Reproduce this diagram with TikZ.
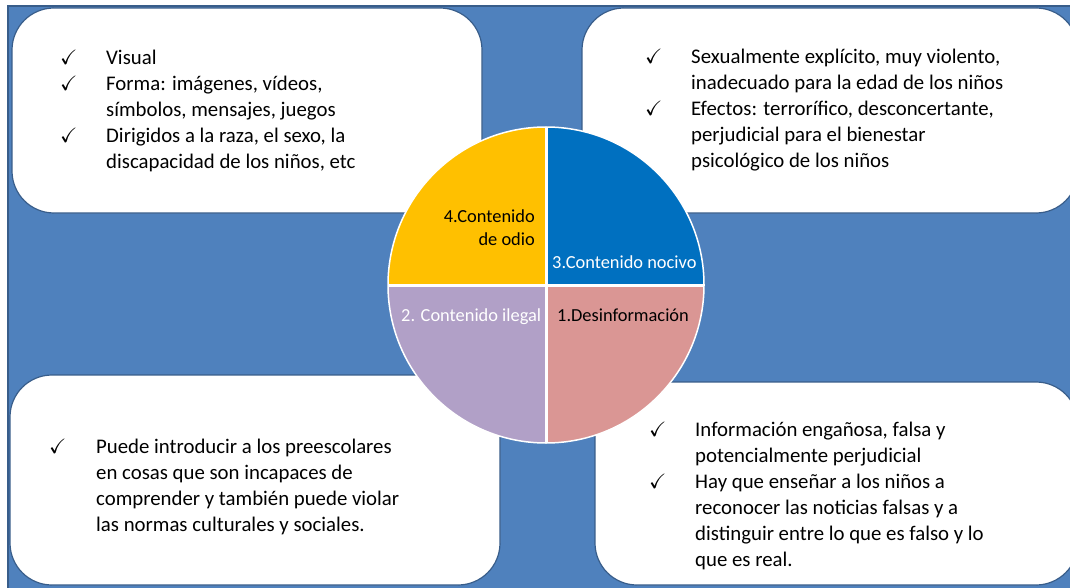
\documentclass[tikz,border=0pt]{standalone}
\usepackage{amssymb}
\usepackage{fontspec}
\setmainfont{Carlito}
\definecolor{bgblue}{HTML}{4F81BD}
\definecolor{bgedge}{HTML}{385D8A}
\definecolor{segyellow}{HTML}{FFC000}
\definecolor{segblue}{HTML}{0070C0}
\definecolor{segpurple}{HTML}{B1A0C7}
\definecolor{segpink}{HTML}{DA9694}
\newcommand{\ck}{$\checkmark$}
\tikzset{
  whitebox/.style={draw=bgedge, line width=1.2pt, fill=white, rounded corners=42pt},
  bodytext/.style={inner sep=0pt, anchor=base west, font=\fontsize{20.8}{26}\selectfont},
  seglabel/.style={inner sep=0pt, font=\fontsize{18.4}{23}\selectfont}
}
\begin{document}
\begin{tikzpicture}[x=1pt,y=-1pt]
\useasboundingbox (0,0) rectangle (1070,588);
\clip (0,0) rectangle (1070,588);
\fill[white] (0,0) rectangle (1070,588);
\draw[draw=bgedge, fill=bgblue, line width=1.2pt] (8,6) rectangle (1085,600);
% white boxes
\draw[whitebox] (12,8) rectangle (482,213);
\draw[whitebox] (582,8) rectangle (1078,213);
\draw[whitebox] (10,375) rectangle (500,585);
\draw[whitebox] (595,382) rectangle (1078,585);
% circle
\coordinate (c) at (546,285);
\begin{scope}
\clip (c) circle[radius=158];
\fill[segyellow] (c) rectangle ++(-160,-160);
\fill[segblue] (c) rectangle ++(160,-160);
\fill[segpink] (c) rectangle ++(160,160);
\fill[segpurple] (c) rectangle ++(-160,160);
\draw[white, line width=3pt] (388,285) -- (704,285);
\draw[white, line width=3pt] (546,127) -- (546,443);
\end{scope}
\node[circle, draw=white, line width=1.5pt, minimum size=316pt, inner sep=0pt] (circ) at (c) {};
% segment labels
\node[seglabel, anchor=base east, align=right] (l4) at (535,245) {4.Contenido\\de odio};
\node[seglabel, anchor=base west, text=white] (l3) at (552,268) {3.Contenido nocivo};
\node[seglabel, anchor=base west, text=white] (l2) at (401,321) {2. Contenido ilegal};
\node[seglabel, anchor=base west] (l1) at (557,321) {1.Desinformación};
% box texts
\node[bodytext] (t1) at (60,65) {\begin{tabular}[t]{@{}p{46pt}@{}l@{}}
\ck & Visual\\
\ck & Forma: imágenes, vídeos,\\
 & símbolos, mensajes, juegos\\
\ck & Dirigidos a la raza, el sexo, la\\
 & discapacidad de los niños, etc
\end{tabular}};
\node[bodytext] (t2) at (645,64) {\begin{tabular}[t]{@{}p{46pt}@{}l@{}}
\ck & Sexualmente explícito, muy violento,\\
 & inadecuado para la edad de los niños\\
\ck & Efectos: terrorífico, desconcertante,\\
 & perjudicial para el bienestar\\
 & psicológico de los niños
\end{tabular}};
\node[bodytext] (t3) at (49,453) {\begin{tabular}[t]{@{}p{47pt}@{}l@{}}
\ck & Puede introducir a los preescolares\\
 & en cosas que son incapaces de\\
 & comprender y también puede violar\\
 & las normas culturales y sociales.
\end{tabular}};
\node[bodytext] (t4) at (649,436) {\begin{tabular}[t]{@{}p{46pt}@{}l@{}}
\ck & Información engañosa, falsa y\\
 & potencialmente perjudicial\\
\ck & Hay que enseñar a los niños a\\
 & reconocer las noticias falsas y a\\
 & distinguir entre lo que es falso y lo\\
 & que es real.
\end{tabular}};
\end{tikzpicture}
\end{document}
